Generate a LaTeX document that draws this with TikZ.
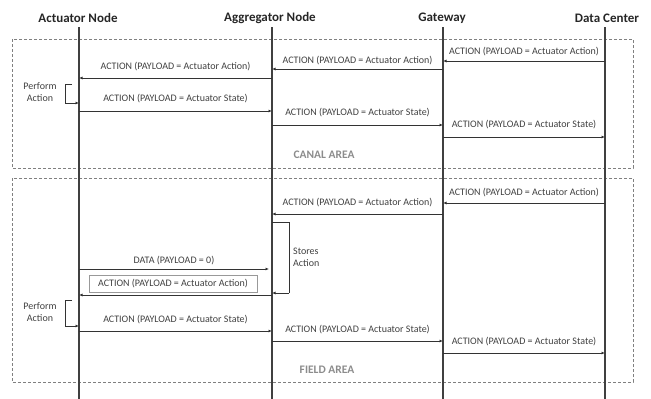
\documentclass[tikz,border=0pt]{standalone}
\usepackage{fontspec}
\setmainfont{Carlito}
\usetikzlibrary{arrows.meta}
\begin{document}
\begin{tikzpicture}[x=1pt,y=-1pt,
  head/.style={font=\bfseries\fontsize{13}{15}\selectfont, text=black!85, inner sep=0pt},
  life/.style={line width=1.6pt, draw=black!75},
  msg/.style={draw=black!80, line width=0.8pt, -{Latex[length=3.5pt,width=3pt]}},
  brk/.style={draw=black!80, line width=0.8pt},
  lbl/.style={font=\fontsize{10}{12}\selectfont, text=black!75, inner sep=0pt},
  side/.style={font=\fontsize{10}{12}\selectfont, text=black!75, inner sep=0pt, align=center},
  area/.style={draw=black!50, line width=0.7pt, dash pattern=on 3pt off 2pt},
  areatxt/.style={font=\bfseries\fontsize{11.5}{13}\selectfont, text=black!45},
  mbox/.style={draw=black!40, line width=0.6pt, inner sep=2pt, minimum width=168pt, minimum height=17pt, font=\fontsize{10}{12}\selectfont, text=black!75},
]
\useasboundingbox (0,0) rectangle (651,399);
% areas
\draw[area] (12,39) rectangle (633,168);
\draw[area] (12,178) rectangle (633,382);
\node[areatxt] (canal) at (324,155) {CANAL AREA};
\node[areatxt] (field) at (327,370) {FIELD AREA};
% headers
\node[head] (hA) at (78,18) {Actuator Node};
\node[head] (hG) at (270,18) {Aggregator Node};
\node[head] (hW) at (442,18) {Gateway};
\node[head] (hD) at (607,18) {Data Center};
% lifelines
\coordinate (A) at (79,27);
\coordinate (G) at (272,27);
\coordinate (W) at (443,27);
\coordinate (D) at (605,27);
\coordinate (Ae) at (79,399);
\coordinate (Ge) at (272,399);
\coordinate (We) at (443,399);
\coordinate (De) at (605,399);
\draw[life] (A) -- (Ae);
\draw[life] (G) -- (Ge);
\draw[life] (W) -- (We);
\draw[life] (D) -- (De);
% ---- canal area
\draw[msg] (D|-0,61) -- (W|-0,61) node[lbl, midway, yshift=9pt] {ACTION (PAYLOAD = Actuator Action)};
\draw[msg] (W|-0,69) -- (G|-0,69) node[lbl, midway, yshift=8.5pt] {ACTION (PAYLOAD = Actuator Action)};
\draw[msg] (G|-0,78) -- (A|-0,78) node[lbl, midway, yshift=11pt] {ACTION (PAYLOAD = Actuator Action)};
\draw[brk] (72,84) -- (65,84) -- (65,103);
\draw[msg] (65,103) -- (A|-0,103);
\node[side] (pa1) at (40,92) {Perform\\Action};
\draw[msg] (A|-0,111) -- (G|-0,111) node[lbl, midway, yshift=12pt] {ACTION (PAYLOAD = Actuator State)};
\draw[msg] (G|-0,125) -- (W|-0,125) node[lbl, midway, yshift=12pt] {ACTION (PAYLOAD = Actuator State)};
\draw[msg] (W|-0,137) -- (D|-0,137) node[lbl, midway, yshift=12pt] {ACTION (PAYLOAD = Actuator State)};
% ---- field area
\draw[msg] (D|-0,203) -- (W|-0,203) node[lbl, midway, yshift=10pt] {ACTION (PAYLOAD = Actuator Action)};
\draw[msg] (W|-0,214) -- (G|-0,214) node[lbl, midway, yshift=11pt] {ACTION (PAYLOAD = Actuator Action)};
\draw[brk] (G|-0,222) -- (289,222) -- (289,293);
\draw[msg] (289,293) -- (G|-0,293);
\node[side, align=left, anchor=west] (sa) at (293,257) {Stores\\Action};
\draw[msg] (A|-0,269) -- (269,269) node[lbl, midway, yshift=8.5pt] {DATA (PAYLOAD = 0)};
\node[mbox] (ab) at (173,283.5) {ACTION (PAYLOAD = Actuator Action)};
\draw[msg] (G|-0,295) -- (A|-0,295);
\draw[brk] (72,300) -- (65,300) -- (65,326);
\draw[msg] (65,326) -- (A|-0,326);
\node[side] (pa2) at (40,312) {Perform\\Action};
\draw[msg] (A|-0,331) -- (G|-0,331) node[lbl, midway, yshift=11pt] {ACTION (PAYLOAD = Actuator State)};
\draw[msg] (G|-0,341) -- (W|-0,341) node[lbl, midway, yshift=11pt] {ACTION (PAYLOAD = Actuator State)};
\draw[msg] (W|-0,353) -- (D|-0,353) node[lbl, midway, yshift=11pt] {ACTION (PAYLOAD = Actuator State)};
\end{tikzpicture}
\end{document}
